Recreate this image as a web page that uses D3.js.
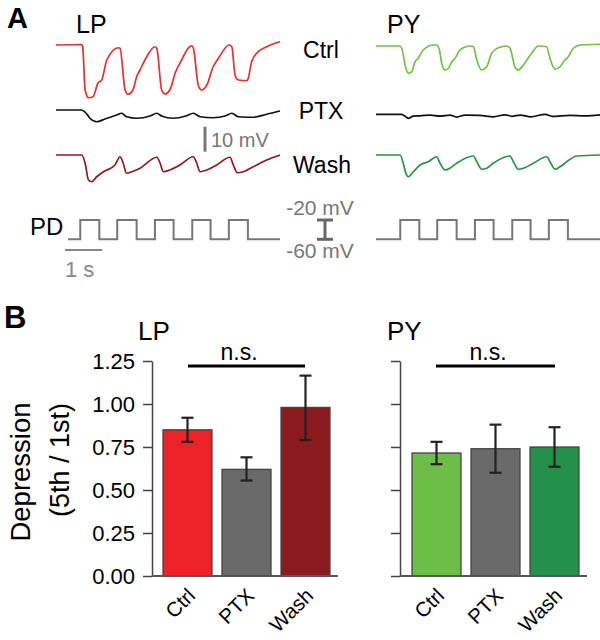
<!DOCTYPE html>
<html><head><meta charset="utf-8">
<script src="https://cdn.jsdelivr.net/npm/d3@7"></script>
<style>body{margin:0;background:#fff} svg{display:block;font-family:"Liberation Sans",Arial,sans-serif}</style>
</head><body><svg id="c" width="600" height="640"></svg>
<script>
// ---------- Panel B data ----------
const conditions = ["Ctrl", "PTX", "Wash"];
const lpMeans = [0.85, 0.62, 0.98];
const lpErrLow = [0.78, 0.555, 0.79];
const lpErrHigh = [0.92, 0.69, 1.165];
const pyMeans = [0.715, 0.74, 0.75];
const pyErrLow = [0.65, 0.60, 0.635];
const pyErrHigh = [0.78, 0.88, 0.865];
const yTicks = [0, 0.25, 0.5, 0.75, 1.0, 1.25];
const lpColors = ["#ec2227", "#6a6a6a", "#8b1a1e"];
const pyColors = ["#6dbe46", "#6a6a6a", "#24914a"];

// ---------- Panel A traces: [time s, mV relative to rest] ----------
const lpCtrl = [[0,0],[0.69,0.2],[0.715,-0.7],[0.78,-18],[0.87,-21.1],[0.99,-20.7],[1.125,-15.2],[1.225,-14],[1.36,-6],[1.67,-1.1],[1.715,-1.3],[1.85,-18],[1.93,-19.7],[2.06,-18],[2.16,-12.7],[2.25,-10],[2.43,-4.7],[2.65,-0.7],[2.70,-1.3],[2.83,-18],[2.92,-19.6],[3.05,-18],[3.19,-11.3],[3.32,-7.3],[3.635,-0.3],[3.68,-1.3],[3.81,-16],[3.90,-18],[4.04,-16],[4.21,-8.7],[4.35,-5.3],[4.64,0],[4.71,-0.7],[4.795,-12],[4.885,-14],[5.11,-14.3],[5.15,-13.3],[5.24,-6.7],[5.375,-3.3],[5.645,-0.7],[6.0,1.3]];
const lpPtx = [[0,0],[0.69,0],[0.80,-1.2],[0.91,-3.3],[1.09,-4.7],[1.31,-3.6],[1.625,-2],[1.76,-1.3],[1.89,-2.7],[2.16,-3.3],[2.52,-2.4],[2.70,-1.3],[2.83,-2.4],[3.14,-3.3],[3.48,-2.4],[3.68,-1.3],[3.86,-2.7],[4.21,-3.1],[4.53,-2.4],[4.71,-1.3],[4.885,-2.7],[5.285,-2.9],[5.645,-1.7],[6.0,-0.4]];
const lpWash = [[0,0],[0.69,0],[0.78,-3.3],[0.87,-10],[0.955,-10.7],[1.09,-8.7],[1.27,-6.7],[1.58,-4],[1.715,-0.7],[1.80,-3.3],[1.89,-7.3],[2.03,-6.7],[2.25,-5.3],[2.70,-0.9],[2.79,-3.3],[2.875,-6.7],[3.05,-6],[3.32,-4],[3.68,-0.7],[3.77,-3.3],[3.86,-6.7],[4.04,-6],[4.305,-4],[4.66,-0.9],[4.75,-4],[4.855,-7.1],[5.02,-6.7],[5.285,-4.7],[5.645,-2],[6.0,0]];
const pyCtrl = [[0,0],[0.645,0],[0.69,-0.9],[0.80,-8.9],[0.865,-10.9],[0.955,-10.3],[1.045,-6.3],[1.13,-4.9],[1.265,-1.6],[1.535,0.4],[1.625,0.4],[1.70,-1.6],[1.76,-6.9],[1.85,-9.6],[1.94,-8.9],[2.03,-6.3],[2.115,-4.9],[2.25,-1.6],[2.52,0],[2.61,-0.3],[2.70,-5.6],[2.83,-9.6],[2.965,-8.3],[3.10,-2.9],[3.28,-0.7],[3.50,0],[3.59,-0.9],[3.72,-8.3],[3.81,-9.6],[3.95,-7.6],[4.04,-5.6],[4.17,-2.9],[4.35,0],[4.57,-0.3],[4.66,-4.9],[4.795,-9.3],[4.93,-8.3],[5.06,-5.6],[5.15,-4.3],[5.285,-0.9],[5.465,0.4],[6.0,0.7]];
const pyPtx = [[0,0],[0.68,0],[0.77,-0.7],[0.865,-1.6],[1.0,-0.7],[1.18,-0.6],[1.45,-0.3],[1.715,-0.7],[1.98,-0.3],[2.16,-1.1],[2.385,-0.3],[2.785,-0.4],[3.14,-1.0],[3.455,-0.2],[3.64,-0.8],[3.86,-0.3],[4.15,-1.0],[4.53,0],[4.715,-0.8],[5.20,-0.4],[5.60,-0.6],[6.0,-0.2]];
const pyWash = [[0,0],[0.645,0],[0.73,-3.3],[0.80,-7.3],[0.865,-8.7],[1.0,-6.7],[1.18,-4],[1.40,-2.7],[1.625,-0.7],[1.715,-3.3],[1.85,-6],[1.98,-5.3],[2.16,-3.3],[2.61,-0.4],[2.70,-2.7],[2.83,-5.7],[2.965,-5.3],[3.14,-3.3],[3.59,-0.4],[3.68,-2.7],[3.81,-5.7],[3.95,-5.3],[4.215,-3.3],[4.575,-0.7],[4.66,-2.7],[4.795,-5.7],[4.93,-4.7],[5.11,-2.7],[5.375,-0.4],[6.0,0]];
// PD bursts (s) and levels (mV)
const pdOn = [0.65, 1.64, 2.65, 3.65, 4.63];
const pdOff = [1.16, 2.16, 3.15, 4.14, 5.14];
const pdLevels = [-60, -20];
const pdStartLP = 0.32, pdStartPY = 0, traceEnd = 6;

const svg = d3.select("#c");
const F = '"Liberation Sans", Arial, sans-serif';

function txt(x, y, s, size, opts = {}) {
  const t = svg.append("text").attr("x", x).attr("y", y).text(s)
    .attr("font-size", size).attr("fill", opts.fill || "#000")
    .attr("text-anchor", opts.anchor || "start");
  if (opts.bold) t.attr("font-weight", "bold");
  if (opts.transform) t.attr("transform", opts.transform);
  return t;
}

// ---------- Panel A ----------
const xLP = d3.scaleLinear().domain([0, 6]).range([56, 280]);
const xPY = d3.scaleLinear().domain([0, 6]).range([376, 600]);
const mv = base => d3.scaleLinear().domain([0, -10]).range([base, base + 25]);
const pdY = d3.scaleLinear().domain(pdLevels).range([239.3, 220]);

function trace(data, xs, ys, color) {
  svg.append("path").datum(data)
    .attr("d", d3.line().x(d => xs(d[0])).y(d => ys(d[1])).curve(d3.curveMonotoneX))
    .attr("fill", "none").attr("stroke", color).attr("stroke-width", 1.7)
    .attr("stroke-linejoin", "round");
}
trace(lpCtrl, xLP, mv(45), "#e5302f");
trace(lpPtx, xLP, mv(110), "#111");
trace(lpWash, xLP, mv(155), "#8b1a1f");
trace(pyCtrl, xPY, mv(46), "#72c04a");
trace(pyPtx, xPY, mv(114.3), "#111");
trace(pyWash, xPY, mv(155), "#2a9146");

function pdTrace(start, xs) {
  const pts = [[start, pdLevels[0]]];
  pdOn.forEach((on, i) => {
    pts.push([on, pdLevels[0]], [on, pdLevels[1]], [pdOff[i], pdLevels[1]], [pdOff[i], pdLevels[0]]);
  });
  pts.push([traceEnd, pdLevels[0]]);
  svg.append("path").datum(pts)
    .attr("d", d3.line().x(d => xs(d[0])).y(d => pdY(d[1])))
    .attr("fill", "none").attr("stroke", "#777").attr("stroke-width", 2);
}
pdTrace(pdStartLP, xLP);
pdTrace(pdStartPY, xPY);

// scale bars
const sb = mv(126.7);
svg.append("line").attr("x1", 205).attr("x2", 205).attr("y1", sb(0)).attr("y2", sb(-10))
  .attr("stroke", "#777").attr("stroke-width", 3);
txt(211, 147, "10 mV", 20, { fill: "#777" });
svg.append("line").attr("x1", xLP(0.24)).attr("x2", xLP(1.24)).attr("y1", 250).attr("y2", 250)
  .attr("stroke", "#888").attr("stroke-width", 2);
txt(65, 277, "1 s", 22, { fill: "#888" });
svg.append("line").attr("x1", 325).attr("x2", 325).attr("y1", pdY(-60)).attr("y2", pdY(-20))
  .attr("stroke", "#666").attr("stroke-width", 3);
[[-20], [-60]].forEach(([v]) => {
  svg.append("line").attr("x1", 317).attr("x2", 333).attr("y1", pdY(v)).attr("y2", pdY(v))
    .attr("stroke", "#666").attr("stroke-width", 3);
});
txt(320, 215, "-20 mV", 21, { fill: "#777", anchor: "middle" });
txt(320, 258, "-60 mV", 21, { fill: "#777", anchor: "middle" });

txt(7, 28, "A", 29, { bold: true });
txt(76, 33, "LP", 25);
txt(387, 33, "PY", 25);
txt(321, 58, "Ctrl", 23, { anchor: "middle" });
txt(321, 119, "PTX", 23, { anchor: "middle" });
txt(322, 173, "Wash", 23, { anchor: "middle" });
txt(30, 235, "PD", 24);

// ---------- Panel B ----------
const y = d3.scaleLinear().domain([0, 1.25]).range([576, 361]);
txt(4, 328, "B", 31, { bold: true });

function barPanel(axisX, bandRange, axisEnd, means, lo, hi, colors, labels, title, titleX, nsX, nsLine) {
  const x = d3.scaleBand().domain(conditions).range(bandRange).paddingInner(0.17).paddingOuter(0.085);
  const g = svg.append("g");
  g.selectAll("rect.bar").data(conditions).join("rect")
    .attr("x", d => x(d)).attr("width", x.bandwidth())
    .attr("y", (d, i) => y(means[i])).attr("height", (d, i) => y(0) - y(means[i]))
    .attr("fill", (d, i) => colors[i]).attr("stroke", "#444").attr("stroke-width", 1.3);
  conditions.forEach((c, i) => {
    const cx = x(c) + x.bandwidth() / 2;
    g.append("line").attr("x1", cx).attr("x2", cx).attr("y1", y(lo[i])).attr("y2", y(hi[i]))
      .attr("stroke", "#222").attr("stroke-width", 2.2);
    [lo[i], hi[i]].forEach(v => g.append("line").attr("x1", cx - 6).attr("x2", cx + 6)
      .attr("y1", y(v)).attr("y2", y(v)).attr("stroke", "#222").attr("stroke-width", 2.2));
    txt(cx + 9, 597, c, 20.5, { anchor: "end", transform: `rotate(-45 ${cx + 9} 597)` });
  });
  const ax = d3.axisLeft(y).tickValues(yTicks).tickSize(9).tickSizeOuter(0)
    .tickFormat(labels ? d3.format(".2f") : () => "");
  const ag = svg.append("g").attr("transform", `translate(${axisX},0)`).call(ax);
  ag.selectAll("path,line").attr("stroke", "#444").attr("stroke-width", 1.5);
  ag.selectAll("text").attr("font-size", 22).attr("font-family", F).attr("fill", "#000").attr("dx", -5).attr("dy", "0.35em");
  svg.append("line").attr("x1", axisX).attr("x2", axisEnd).attr("y1", y(0)).attr("y2", y(0))
    .attr("stroke", "#555").attr("stroke-width", 1.8);
  txt(titleX, 340, title, 26);
  svg.append("line").attr("x1", nsLine[0]).attr("x2", nsLine[1]).attr("y1", 366).attr("y2", 366)
    .attr("stroke", "#000").attr("stroke-width", 2.8);
  txt(nsX, 360, "n.s.", 23, { anchor: "middle" });
}
barPanel(152, [158, 335], 338, lpMeans, lpErrLow, lpErrHigh, lpColors, true, "LP", 138, 239, [188, 305]);
barPanel(400, [407, 584], 587, pyMeans, pyErrLow, pyErrHigh, pyColors, false, "PY", 387, 488, [436, 555]);

// y label
txt(0, 0, "Depression", 27.5, { anchor: "middle", transform: "translate(30,472) rotate(-90)" });
txt(0, 0, "(5th / 1st)", 27, { anchor: "middle", transform: "translate(69,460) rotate(-90)" });
</script></body></html>
